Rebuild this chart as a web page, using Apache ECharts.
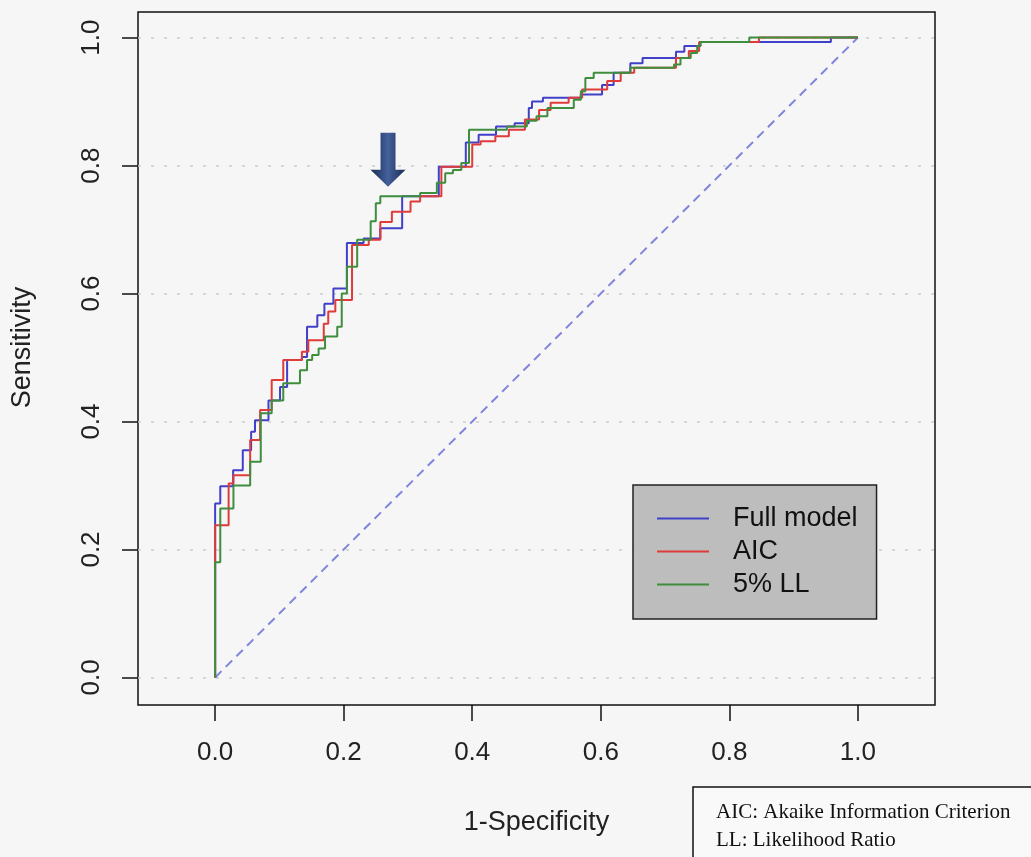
<!DOCTYPE html>
<html>
<head>
<meta charset="utf-8">
<script src="https://cdn.jsdelivr.net/npm/echarts@6/dist/echarts.min.js"></script>
<style>
  html, body { margin: 0; padding: 0; background: #f6f6f6; }
  #chart { width: 1031px; height: 857px; }
</style>
</head>
<body>
<div id="chart"></div>
<script>
// ROC curves: each point is the foot of a vertical step
const fullFpr  = [0, 0.008, 0.028, 0.043, 0.056, 0.062, 0.083, 0.101, 0.112, 0.135, 0.143, 0.159, 0.170, 0.184, 0.205, 0.231, 0.257, 0.291, 0.348, 0.390, 0.410, 0.437, 0.466, 0.488, 0.493, 0.510, 0.569, 0.602, 0.620, 0.646, 0.665, 0.717, 0.730, 0.755, 0.958, 1];
const fullSens = [0, 0.272, 0.299, 0.324, 0.355, 0.384, 0.402, 0.433, 0.454, 0.496, 0.501, 0.548, 0.566, 0.584, 0.608, 0.679, 0.686, 0.702, 0.752, 0.798, 0.836, 0.848, 0.861, 0.866, 0.890, 0.900, 0.906, 0.911, 0.926, 0.945, 0.960, 0.968, 0.978, 0.987, 0.993, 1];

const aicFpr  = [0, 0.021, 0.0285, 0.0545, 0.070, 0.088, 0.106, 0.135, 0.145, 0.169, 0.176, 0.187, 0.213, 0.239, 0.257, 0.275, 0.304, 0.319, 0.352, 0.400, 0.413, 0.436, 0.457, 0.482, 0.504, 0.522, 0.550, 0.571, 0.610, 0.631, 0.652, 0.717, 0.737, 0.753, 0.846, 1];
const aicSens = [0, 0.238, 0.303, 0.316, 0.371, 0.418, 0.465, 0.496, 0.509, 0.527, 0.553, 0.572, 0.590, 0.676, 0.684, 0.712, 0.728, 0.744, 0.752, 0.798, 0.833, 0.838, 0.846, 0.856, 0.872, 0.887, 0.898, 0.906, 0.919, 0.932, 0.945, 0.953, 0.968, 0.979, 0.993, 1];

const llFpr  = [0, 0.008, 0.0285, 0.0545, 0.071, 0.088, 0.106, 0.132, 0.143, 0.151, 0.161, 0.171, 0.190, 0.197, 0.205, 0.221, 0.242, 0.250, 0.257, 0.319, 0.345, 0.358, 0.370, 0.383, 0.395, 0.454, 0.485, 0.500, 0.517, 0.558, 0.569, 0.576, 0.589, 0.646, 0.714, 0.724, 0.740, 0.750, 0.755, 0.831, 1];
const llSens = [0, 0.180, 0.264, 0.300, 0.337, 0.413, 0.433, 0.460, 0.480, 0.496, 0.504, 0.514, 0.533, 0.548, 0.600, 0.642, 0.684, 0.713, 0.741, 0.752, 0.757, 0.773, 0.788, 0.793, 0.804, 0.856, 0.861, 0.870, 0.877, 0.890, 0.903, 0.916, 0.937, 0.945, 0.953, 0.958, 0.968, 0.976, 0.987, 0.993, 1];

const chanceX = [0, 1];
const chanceY = [0, 1];

const seriesNames = ['Full model', 'AIC', '5% LL'];
const seriesColors = ['#4040c8', '#e03b3b', '#3e8e3e'];

const ticks = [0, 0.2, 0.4, 0.6, 0.8, 1.0];
const tickLabels = ['0.0', '0.2', '0.4', '0.6', '0.8', '1.0'];

// where the arrow sits (data coords, centre of the arrow)
const arrowAt = [0.269, 0.809];

const font = '"Liberation Sans", Arial, sans-serif';
const zip = (xs, ys) => xs.map((x, i) => [x, ys[i]]);
const tickText = v => tickLabels[ticks.findIndex(t => Math.abs(t - v) < 1e-6)];

let chart = echarts.init(document.getElementById('chart'));

const curve = (name, data, color) => ({
  name: name,
  type: 'line',
  step: 'start',
  data: data,
  symbol: 'none',
  color: color,
  itemStyle: { color: color },
  lineStyle: { color: color, width: 2, type: 'solid' }
});

const llSeries = curve(seriesNames[2], zip(llFpr, llSens), seriesColors[2]);
llSeries.markPoint = {
  silent: true,
  label: { show: false },
  data: [{
    coord: arrowAt,
    symbol: 'path://M10,0 L25,0 L25,37 L35,37 L17.5,54 L0,37 L10,37 Z',
    symbolSize: [35, 54],
    itemStyle: {
      color: {
        type: 'linear', x: 0, y: 0, x2: 1, y2: 0,
        colorStops: [
          { offset: 0, color: '#182a50' },
          { offset: 0.5, color: '#44619c' },
          { offset: 1, color: '#182a50' }
        ]
      }
    }
  }]
};

const axisCommon = {
  type: 'value',
  nameLocation: 'middle',
  axisLine: { show: false, onZero: false },
  splitLine: { show: false },
  axisTick: { show: true, customValues: ticks, length: 16, lineStyle: { color: '#111', width: 1.5 } }
};

const chartOptions = {
  backgroundColor: '#f6f6f6',
  animation: false,
  grid: {
    left: 138, right: 96, top: 12, bottom: 152,
    show: true, borderColor: '#111', borderWidth: 1.5
  },
  legend: {
    data: seriesNames,
    orient: 'vertical',
    left: 633, top: 485,
    z: 10,
    padding: [20, 19, 21, 24],
    backgroundColor: '#bdbdbd',
    borderColor: '#222',
    borderWidth: 1.5,
    icon: 'rect',
    itemWidth: 52,
    itemHeight: 2,
    itemGap: 6,
    selectedMode: false,
    itemStyle: { borderWidth: 0 },
    textStyle: { fontFamily: font, fontSize: 27, color: '#111', padding: [0, 0, 0, 19], lineHeight: 27 }
  },
  xAxis: Object.assign({}, axisCommon, {
    min: -0.12, max: 1.12,
    name: '1-Specificity',
    nameGap: 104,
    nameTextStyle: { fontFamily: font, fontSize: 27, color: '#222' },
    axisLabel: { customValues: ticks, formatter: tickText, margin: 35, fontFamily: font, fontSize: 26, color: '#222' }
  }),
  yAxis: Object.assign({}, axisCommon, {
    min: -0.043, max: 1.04,
    name: 'Sensitivity',
    nameGap: 102,
    nameTextStyle: { fontFamily: font, fontSize: 27, color: '#222', padding: [0, 0, 0, 22] },
    axisLabel: { customValues: ticks, formatter: tickText, rotate: 90, margin: 33, fontFamily: font, fontSize: 26, color: '#222' }
  }),
  series: [
    {
      name: 'chance',
      type: 'line',
      data: zip(chanceX, chanceY),
      symbol: 'none',
      lineStyle: { color: '#8185dc', width: 2, type: [9, 6] },
      markLine: {
        silent: true,
        z: 1,
        symbol: 'none',
        label: { show: false },
        lineStyle: { color: '#cdcdcd', width: 1.5, type: [3, 10] },
        data: ticks.map(v => ({ yAxis: v }))
      }
    },
    curve(seriesNames[0], zip(fullFpr, fullSens), seriesColors[0]),
    curve(seriesNames[1], zip(aicFpr, aicSens), seriesColors[1]),
    llSeries
  ],
  graphic: [
    {
      type: 'rect',
      shape: { x: 693, y: 787, width: 400, height: 100 },
      style: { fill: '#f9f9f9', stroke: '#111', lineWidth: 1.5 }
    },
    {
      type: 'text',
      left: 716, top: 798,
      style: {
        text: 'AIC: Akaike Information Criterion\nLL: Likelihood Ratio',
        font: '21px "Liberation Serif", "Times New Roman", serif',
        lineHeight: 28,
        fill: '#111'
      }
    }
  ]
};

chart.setOption(chartOptions);
</script>
</body>
</html>
